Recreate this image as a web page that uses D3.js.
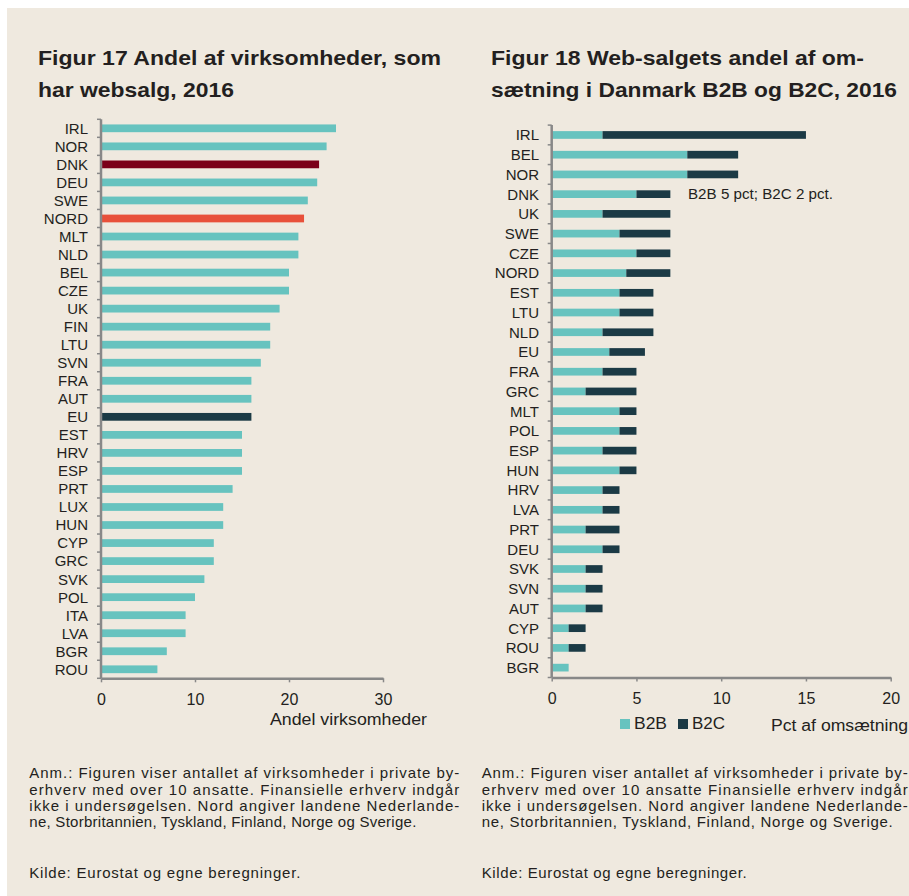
<!DOCTYPE html>
<html>
<head>
<meta charset="utf-8">
<script src="https://cdn.jsdelivr.net/npm/d3@7"></script>
<style>
  html, body { margin: 0; padding: 0; background: #ffffff; }
  svg { display: block; }
  text { font-family: "Liberation Sans", Arial, Helvetica, sans-serif; fill: #231f20; }
  .title { font-family: "Liberation Sans Narrow", "Arial Narrow", "Liberation Sans", Arial, sans-serif; font-weight: bold; font-size: 21px; }
</style>
</head>
<body>
<script>
// ---------- DATA ----------
const leftCategories = ["IRL","NOR","DNK","DEU","SWE","NORD","MLT","NLD","BEL","CZE","UK","FIN","LTU","SVN","FRA","AUT","EU","EST","HRV","ESP","PRT","LUX","HUN","CYP","GRC","SVK","POL","ITA","LVA","BGR","ROU"];
const leftValues = [25,24,23.2,23,22,21.6,21,21,20,20,19,18,18,17,16,16,16,15,15,15,14,13,13,12,12,11,10,9,9,7,6];
const leftTicks = [0,10,20,30];

const rightCategories = ["IRL","BEL","NOR","DNK","UK","SWE","CZE","NORD","EST","LTU","NLD","EU","FRA","GRC","MLT","POL","ESP","HUN","HRV","LVA","PRT","DEU","SVK","SVN","AUT","CYP","ROU","BGR"];
const b2bValues = [3,8,8,5,3,4,5,4.4,4,4,3,3.4,3,2,4,4,3,4,3,3,2,3,2,2,2,1,1,1];
const b2cValues = [12,3,3,2,4,3,2,2.6,2,2,3,2.1,2,3,1,1,2,1,1,1,2,1,1,1,1,1,1,0];
const rightTicks = [0,5,10,15,20];
const seriesKeys = ["B2B","B2C"];

const titleLeft = ["Figur 17 Andel af virksomheder, som", "har websalg, 2016"];
const titleRight = ["Figur 18 Web-salgets andel af om-", "sætning i Danmark B2B og B2C, 2016"];
const annotationText = "B2B 5 pct; B2C 2 pct.";
const leftAxisTitle = "Andel virksomheder";
const rightAxisTitle = "Pct af omsætning";
const notesLeft = [
  "Anm.: Figuren viser antallet af virksomheder i private by-",
  "erhverv med over 10 ansatte. Finansielle erhverv indgår",
  "ikke i undersøgelsen. Nord angiver landene Nederlande-",
  "ne, Storbritannien, Tyskland, Finland, Norge og Sverige."
];
const notesRight = [
  "Anm.: Figuren viser antallet af virksomheder i private by-",
  "erhverv med over 10 ansatte Finansielle erhverv indgår",
  "ikke i undersøgelsen. Nord angiver landene Nederlande-",
  "ne, Storbritannien, Tyskland, Finland, Norge og Sverige."
];
const sourceText = "Kilde: Eurostat og egne beregninger.";

// ---------- STYLE ----------
const BG = "#efe9df";
const TEAL = "#67c3bf";
const DARK = "#1b3a45";
const DNK_RED = "#7b0019";
const NORD_RED = "#e8503a";
const AXIS = "#888888";
const specialColors = { "DNK": DNK_RED, "NORD": NORD_RED, "EU": DARK };

const W = 909, H = 896;
const svg = d3.select("body").append("svg").attr("width", W).attr("height", H);
svg.append("rect").attr("x", 7).attr("y", 8).attr("width", W - 7).attr("height", H - 8).attr("fill", BG);

// ---------- TITLES ----------
const tl = svg.append("g");
tl.append("text").attr("class","title").attr("x",38).attr("y",65).attr("textLength",403).attr("lengthAdjust","spacingAndGlyphs").text(titleLeft[0]);
tl.append("text").attr("class","title").attr("x",38).attr("y",97).attr("textLength",196).attr("lengthAdjust","spacingAndGlyphs").text(titleLeft[1]);
tl.append("text").attr("class","title").attr("x",491).attr("y",65).attr("textLength",373).attr("lengthAdjust","spacingAndGlyphs").text(titleRight[0]);
tl.append("text").attr("class","title").attr("x",491).attr("y",97).attr("textLength",406).attr("lengthAdjust","spacingAndGlyphs").text(titleRight[1]);

// ---------- helper: category axis with boundary ticks ----------
function categoryAxis(g, yScale, x0, labelX) {
  const step = yScale.step();
  const cats = yScale.domain();
  const top = yScale(cats[0]) + yScale.bandwidth() / 2 - step / 2;
  const bottom = yScale(cats[cats.length - 1]) + yScale.bandwidth() / 2 + step / 2;
  const bounds = cats.map(c => yScale(c) + yScale.bandwidth() / 2 - step / 2).concat([bottom]);
  g.selectAll("line.tk").data(bounds).join("line").attr("class","tk")
    .attr("x1", x0 - 4).attr("x2", x0).attr("y1", d => d).attr("y2", d => d)
    .attr("stroke", AXIS).attr("stroke-width", 1.5);
  g.append("line").attr("x1", x0).attr("x2", x0).attr("y1", top).attr("y2", bottom)
    .attr("stroke", AXIS).attr("stroke-width", 2.5);
  g.selectAll("text.cat").data(cats).join("text").attr("class","cat")
    .attr("x", labelX).attr("y", c => yScale(c) + yScale.bandwidth() / 2).attr("dy", "0.36em")
    .attr("text-anchor", "end").style("font-size", "15px").text(c => c);
}
function valueAxis(g, xScale, ticks, yPos) {
  const ax = g.append("g").attr("transform", `translate(0,${yPos})`)
    .call(d3.axisBottom(xScale).tickValues(ticks).tickSize(4).tickSizeOuter(0).tickPadding(11).tickFormat(d3.format("d")));
  ax.select(".domain").attr("stroke", AXIS).attr("stroke-width", 2.5);
  ax.selectAll(".tick line").attr("stroke", AXIS).attr("stroke-width", 1.5);
  ax.selectAll(".tick text").style("font-size", "16px").attr("fill", "#231f20")
    .style("font-family", '"Liberation Sans", Arial, sans-serif');
}

// ---------- LEFT CHART ----------
const xL = d3.scaleLinear().domain([0, 30]).range([101, 383]);
const yL = d3.scaleBand().domain(leftCategories).range([119.3, 678.3]).paddingInner(0.57).paddingOuter(0.285);
const gL = svg.append("g");
gL.selectAll("rect.bar").data(leftCategories.map((c, i) => ({ c, v: leftValues[i] }))).join("rect")
  .attr("class","bar")
  .attr("x", xL(0)).attr("y", d => yL(d.c)).attr("height", yL.bandwidth())
  .attr("width", d => xL(d.v) - xL(0))
  .attr("fill", d => specialColors[d.c] || TEAL);
categoryAxis(gL, yL, xL(0), 88);
valueAxis(gL, xL, leftTicks, 678.3);
gL.append("text").attr("x", 270).attr("y", 725).attr("textLength", 157).attr("lengthAdjust","spacingAndGlyphs")
  .style("font-size","16px").text(leftAxisTitle);

// ---------- RIGHT CHART ----------
const xR = d3.scaleLinear().domain([0, 20]).range([551.7, 890.7]);
const yR = d3.scaleBand().domain(rightCategories).range([125.1, 677.5]).paddingInner(0.61).paddingOuter(0.305);
const table = rightCategories.map((c, i) => ({ cat: c, B2B: b2bValues[i], B2C: b2cValues[i] }));
const stacked = d3.stack().keys(seriesKeys)(table);
const seriesColor = d3.scaleOrdinal().domain(seriesKeys).range([TEAL, DARK]);
const gR = svg.append("g");
gR.selectAll("g.series").data(stacked).join("g").attr("class","series")
  .attr("fill", s => seriesColor(s.key))
  .selectAll("rect").data(s => s).join("rect")
  .attr("x", d => xR(d[0])).attr("y", d => yR(d.data.cat))
  .attr("width", d => xR(d[1]) - xR(d[0])).attr("height", yR.bandwidth());
categoryAxis(gR, yR, xR(0), 539);
valueAxis(gR, xR, rightTicks, 677.5);

// annotation next to DNK
gR.append("text").attr("x", 688).attr("y", yR("DNK") + yR.bandwidth() / 2).attr("dy","0.36em")
  .attr("textLength", 145).attr("lengthAdjust","spacingAndGlyphs").style("font-size","14px").text(annotationText);

// legend
const lg = gR.append("g");
const legendX = [620, 678];
seriesKeys.forEach((k, i) => {
  lg.append("rect").attr("x", legendX[i]).attr("y", 719).attr("width", 10).attr("height", 10).attr("fill", seriesColor(k));
  lg.append("text").attr("x", legendX[i] + 14).attr("y", 729).attr("textLength", 33).attr("lengthAdjust","spacingAndGlyphs")
    .style("font-size","16px").text(k);
});
gR.append("text").attr("x", 771).attr("y", 731).attr("textLength", 137).attr("lengthAdjust","spacingAndGlyphs")
  .style("font-size","16px").text(rightAxisTitle);

// ---------- NOTES ----------
const noteBaselines = [778, 794.5, 810.5, 826.5];
const leftNoteWidths = [430, 430, 430, 387];
const rightNoteWidths = [426, 426, 426, 411];
const gN = svg.append("g").style("font-size","15px");
notesLeft.forEach((t, i) => {
  gN.append("text").attr("x", 29.3).attr("y", noteBaselines[i]).attr("textLength", leftNoteWidths[i])
    .attr("lengthAdjust","spacing").text(t);
});
notesRight.forEach((t, i) => {
  gN.append("text").attr("x", 481.7).attr("y", noteBaselines[i]).attr("textLength", rightNoteWidths[i])
    .attr("lengthAdjust","spacing").text(t);
});
gN.append("text").attr("x", 29.3).attr("y", 878).attr("textLength", 271).attr("lengthAdjust","spacing").text(sourceText);
gN.append("text").attr("x", 481.7).attr("y", 878).attr("textLength", 265).attr("lengthAdjust","spacing").text(sourceText);
</script>
</body>
</html>
